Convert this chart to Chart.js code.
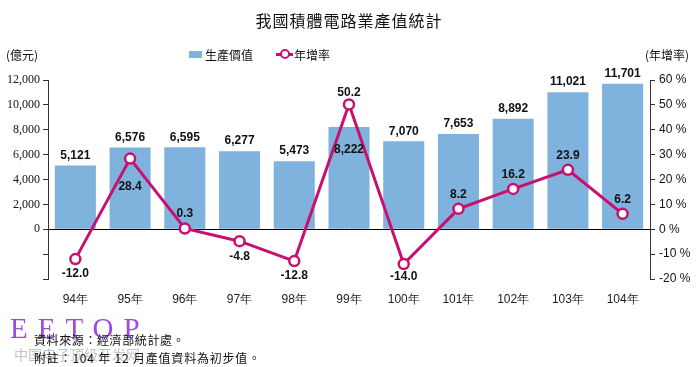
<!DOCTYPE html>
<html><head><meta charset="utf-8">
<script src="https://cdn.jsdelivr.net/npm/chart.js@4.4.1/dist/chart.umd.min.js"></script>
<style>
html,body{margin:0;padding:0;background:#fff;}
#wrap{position:relative;width:698px;height:367px;overflow:hidden;}
canvas{position:absolute;left:0;top:0;}
.t{position:absolute;white-space:nowrap;font-family:"Noto Sans CJK TC","Noto Sans CJK SC",sans-serif;color:#111;}
</style></head>
<body><div id="wrap">
<canvas id="c" width="698" height="367"></canvas>
<div class="t" style="left:0;width:698px;text-align:center;top:8px;font-size:16px;letter-spacing:1px;">我國積體電路業產值統計</div>
<div class="t" style="left:6px;top:46px;font-size:12px;">(億元)</div>
<div class="t" style="left:645px;top:46px;font-size:12px;">(年增率)</div>
<div style="position:absolute;left:189px;top:51px;width:13px;height:7px;background:#80b2de;"></div>
<div class="t" style="left:205px;top:46px;font-size:12px;">生產價值</div>
<div style="position:absolute;left:276px;top:53px;width:17px;height:3px;background:#c8106e;"></div>
<div style="position:absolute;left:280px;top:49px;width:6px;height:6px;border:2px solid #c8106e;border-radius:50%;background:#fff;"></div>
<div class="t" style="left:294px;top:46px;font-size:12px;">年增率</div>
<div class="t" style="left:10px;top:312px;font-size:29px;font-family:'Liberation Serif',serif;color:#8a2be2;letter-spacing:10px;opacity:0.85;">EETOP</div>
<div class="t" style="left:14px;top:344px;font-size:14px;color:#bbb;opacity:0.85;">中国电子顶级开发网</div>
<div class="t" style="left:34px;top:331px;font-size:12px;letter-spacing:0.6px;">資料來源：經濟部統計處。</div>
<div class="t" style="left:34px;top:349px;font-size:12px;letter-spacing:0.8px;">附註：104 年 12 月產值資料為初步值。</div>
</div>
<script>
const categories = ['94年','95年','96年','97年','98年','99年','100年','101年','102年','103年','104年'];
const productionValue = [5121, 6576, 6595, 6277, 5473, 8222, 7070, 7653, 8892, 11021, 11701];
const growthRate = [-12.0, 28.4, 0.3, -4.8, -12.8, 50.2, -14.0, 8.2, 16.2, 23.9, 6.2];
const leftTicks = [-4000, 12000, 2000];
const rightTicks = [-20, 60, 10];

// label placement (style only)
const rateLabelOffset = [15, 28, -15, 15, 15, -12, 13, -14, -14, -14, -14];
const barLabelOffset = [-10, -10, -10, -10, -10, 23, -10, -10, -10, -10, -10];

const labelPlugin = {
  id: 'labels',
  afterDatasetsDraw(chart) {
    const ctx = chart.ctx;
    ctx.save();
    ctx.font = 'bold 12px "Liberation Sans", Arial, sans-serif';
    ctx.fillStyle = '#111';
    ctx.textAlign = 'center';
    ctx.textBaseline = 'middle';
    const bars = chart.getDatasetMeta(0).data;
    bars.forEach((b, i) => {
      ctx.fillText(productionValue[i].toLocaleString('en-US'), b.x, b.y + barLabelOffset[i]);
    });
    const pts = chart.getDatasetMeta(1).data;
    pts.forEach((p, i) => {
      ctx.fillText(growthRate[i].toFixed(1), p.x, p.y + rateLabelOffset[i]);
    });
    ctx.restore();
  }
};

new Chart(document.getElementById('c'), {
  data: {
    labels: categories,
    datasets: [
      { type: 'bar', label: '生產價值', data: productionValue, yAxisID: 'y',
        backgroundColor: '#80b2de', barPercentage: 0.75, categoryPercentage: 1.0, order: 2 },
      { type: 'line', label: '年增率', data: growthRate, yAxisID: 'y1',
        borderColor: '#c8106e', borderWidth: 3, pointRadius: 5, pointBorderWidth: 2.5,
        pointBackgroundColor: '#fff', pointBorderColor: '#c8106e', tension: 0, order: 1 }
    ]
  },
  options: {
    responsive: false, animation: false,
    layout: { padding: { top: 80, left: 0, right: 0, bottom: 0 } },
    plugins: { legend: { display: false }, tooltip: { enabled: false } },
    scales: {
      x: {
        grid: { display: false, drawTicks: false }, border: { display: false },
        ticks: { padding: 13, color: '#222', font: { size: 12, family: '"Liberation Sans", Arial, sans-serif' } },
        afterFit(s) { s.height = 88; }
      },
      y: {
        position: 'left', min: leftTicks[0], max: leftTicks[1],
        border: { display: true, color: '#333', width: 1 },
        grid: { drawOnChartArea: true, color: c => c.tick && c.tick.value === 0 ? '#000' : 'rgba(0,0,0,0)',
                tickColor: '#333', tickLength: 5, lineWidth: 1 },
        ticks: { stepSize: leftTicks[2], padding: 3, color: '#111',
                 font: { size: 12, family: '"Liberation Serif", serif' },
                 callback: v => v < 0 ? '' : v.toLocaleString('en-US') },
        afterFit(s) { s.width = 48; }
      },
      y1: {
        position: 'right', min: rightTicks[0], max: rightTicks[1],
        border: { display: true, color: '#333', width: 1 },
        grid: { drawOnChartArea: false, tickColor: '#333', tickLength: 5 },
        ticks: { stepSize: rightTicks[2], padding: 4, color: '#111',
                 font: { size: 12, family: '"Liberation Sans", Arial, sans-serif' },
                 callback: v => v + ' %' },
        afterFit(s) { s.width = 48; }
      }
    }
  },
  plugins: [labelPlugin]
});
</script>
</body></html>
